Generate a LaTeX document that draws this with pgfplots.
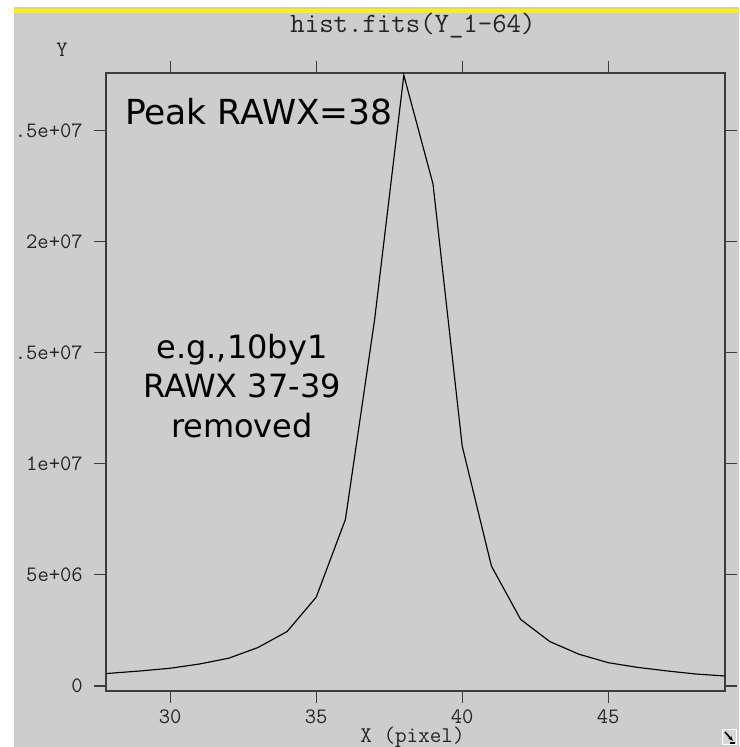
\documentclass[border=0pt]{standalone}
\usepackage{pgfplots}
\pgfplotsset{compat=1.18}
\usetikzlibrary{arrows.meta}
\usepackage{fontspec}
\newfontfamily\annfont{DejaVu Sans}
\definecolor{bggray}{RGB}{205,205,205}
\definecolor{boxgray}{RGB}{60,60,60}
\begin{document}
\begin{tikzpicture}
\useasboundingbox (0pt,0pt) rectangle (739pt,747pt);
\fill[white] (0pt,0pt) rectangle (739pt,747pt);
\fill[bggray] (14pt,0pt) rectangle (739pt,740pt);
\fill[yellow] (14pt,733.7pt) rectangle (739pt,738pt);
\begin{axis}[
  at={(106pt,56pt)}, anchor=south west,
  scale only axis, width=619pt, height=618pt,
  xmin=27.8, xmax=49, ymin=-0.225e6, ymax=27.6e6,
  xtick={30,35,40,45}, xticklabels={30,35,40,45},
  ytick={0,5e6,1e7,1.5e7,2e7,2.5e7},
  yticklabels={0,5e+06,1e+07,1.5e+07,2e+07,2.5e+07},
  scaled y ticks=false, scaled x ticks=false,
  tick align=outside, major tick length=12pt,
  tick style={line width=1.1pt, color=boxgray},
  axis line style={line width=1.3pt, color=boxgray},
  ticklabel style={font=\fontsize{22pt}{22pt}\selectfont\ttfamily, inner sep=0pt, text=black!85},
  xticklabel style={anchor=north},
  yticklabel style={anchor=east},
  xticklabel shift=7pt, yticklabel shift=11pt,
  clip=false,
]
\addplot[black, line width=1.15pt, mark=none] coordinates {
  (27.8,0.56e6) (28,0.58e6) (29,0.68e6) (30,0.80e6) (31,0.99e6) (32,1.25e6)
  (33,1.73e6) (34,2.45e6) (35,4.0e6) (36,7.5e6) (37,16.5e6) (38,27.5e6)
  (39,22.6e6) (40,10.8e6) (41,5.4e6) (42,3.0e6) (43,2.0e6) (44,1.43e6)
  (45,1.05e6) (46,0.84e6) (47,0.68e6) (48,0.54e6) (49,0.45e6)
};
\node[anchor=base, inner sep=0pt, font=\fontsize{34.5pt}{36pt}\selectfont\annfont] at (rel axis cs:0.2470,0.9159) {Peak RAWX=38};
\node[anchor=base, inner sep=0pt, font=\fontsize{32pt}{34pt}\selectfont\annfont] at (rel axis cs:0.2197,0.5388) {e.g.,10by1};
\node[anchor=base, inner sep=0pt, font=\fontsize{32pt}{34pt}\selectfont\annfont] at (rel axis cs:0.2197,0.4757) {RAWX 37-39};
\node[anchor=base, inner sep=0pt, font=\fontsize{32pt}{34pt}\selectfont\annfont] at (rel axis cs:0.2197,0.4110) {removed};
\end{axis}
\node[anchor=base, inner sep=0pt, font=\fontsize{28pt}{30pt}\selectfont\ttfamily, text=black!85] at (413pt,714pt) {hist.fits(Y\_1-64)};
\node[anchor=center, inner sep=0pt, font=\fontsize{22pt}{22pt}\selectfont\ttfamily, text=black!85] at (62pt,697pt) {Y};
\node[anchor=base, inner sep=0pt, font=\fontsize{22.5pt}{22pt}\selectfont\ttfamily, text=black!85] at (412.5pt,5pt) {X (pixel)};
% resize handle icon
\fill[white] (722pt,2pt) rectangle (737pt,18pt);
\fill[bggray!80] (723pt,3pt) rectangle (736pt,17pt);
\draw[black, line width=1.6pt, -{Stealth[length=5pt]}] (725pt,15pt) -- (733pt,6pt);
\draw[black, line width=1.4pt] (730pt,4pt) -- (735pt,4pt);
\fill[white] (0pt,0pt) rectangle (14pt,747pt);
\end{tikzpicture}
\end{document}
